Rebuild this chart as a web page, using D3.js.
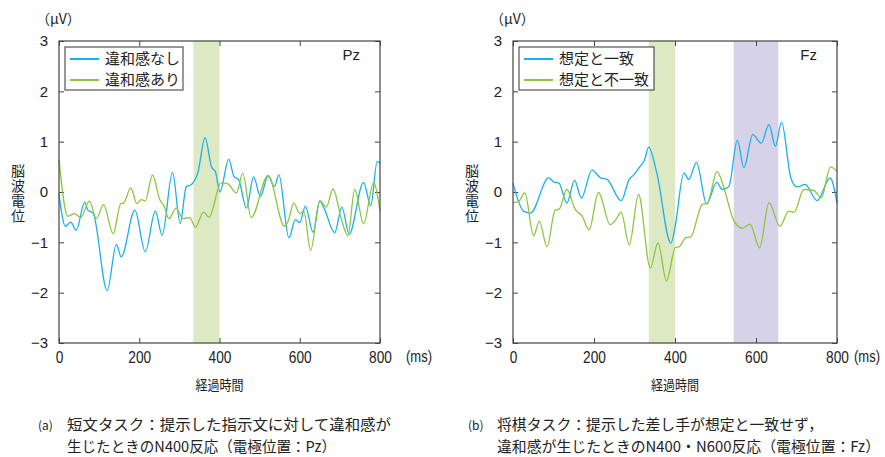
<!DOCTYPE html>
<html>
<head>
<meta charset="utf-8">
<script src="https://cdn.jsdelivr.net/npm/d3@7"></script>
<style>
  body { margin: 0; background: #fff; }
  text { fill: #222; }
  .jp { font-family: "Noto Sans CJK JP", sans-serif; }
  .num { font-family: "Liberation Sans", Arial, sans-serif; }
</style>
</head>
<body>
<svg id="chart" width="885" height="457"></svg>
<script>
// ---- data (ms, µV) ----
const pzMatchMs = [0, 16, 29, 43, 64, 72, 85, 120, 143, 155, 189, 215, 240, 257, 283, 302, 317, 330, 346, 364, 380, 390, 401, 423, 436, 448, 467, 485, 502, 521, 537, 548, 573, 589, 600, 614, 633, 650, 662, 687, 705, 723, 759, 777, 793, 800];
const pzMatchUv = [-0.05, -0.68, -0.6, -0.76, -0.2, -0.36, -0.42, -1.96, -1.04, -1.29, -0.36, -1.19, -0.38, -0.86, 0.39, -0.63, 0.1, 0.15, 0.38, 1.08, 0.5, 0.4, 0.0, 0.65, 0.31, 0.24, -0.32, 0.3, -0.09, 0.32, 0.11, 0.34, -0.91, -0.55, -0.61, -0.28, -0.8, -0.18, -0.35, -0.81, -0.3, -0.84, 0.19, -0.27, 0.61, 0.57];

const pzOddMs = [0, 22, 39, 54, 76, 93, 111, 135, 154, 161, 179, 194, 205, 215, 233, 251, 262, 274, 292, 309, 326, 340, 360, 374, 404, 421, 442, 458, 479, 521, 562, 571, 585, 600, 610, 627, 650, 666, 683, 704, 720, 737, 759, 784, 800];
const pzOddUv = [0.64, -0.48, -0.43, -0.51, -0.18, -0.53, -0.25, -0.83, -0.23, -0.22, 0.08, -0.23, -0.15, -0.18, 0.34, -0.15, -0.28, -0.53, -0.32, -0.53, -0.51, -0.7, -0.4, -0.5, 0.18, 0.16, -0.02, 0.37, -0.51, 0.33, -0.68, -0.58, -0.22, -0.43, -0.38, -1.16, -0.17, -0.3, 0.06, -0.55, -0.87, 0.05, -0.63, 0.18, -0.38];

const fzMatchMs = [0, 26, 43, 88, 103, 113, 133, 152, 169, 195, 216, 232, 267, 287, 298, 314, 325, 335, 355, 390, 400, 422, 434, 453, 478, 503, 517, 533, 554, 570, 592, 613, 632, 648, 663, 686, 702, 721, 751, 783, 800];
const fzMatchUv = [0.17, -0.38, -0.42, 0.28, 0.19, 0.18, -0.22, 0.23, -0.12, 0.44, 0.28, 0.25, -0.17, 0.25, 0.34, 0.51, 0.64, 0.89, 0.38, -1.02, -0.7, 0.38, 0.25, 0.59, -0.24, 0.19, 0.05, 0.11, 1.03, 0.48, 1.14, 0.97, 1.34, 0.91, 1.39, 0.28, 0.1, 0.15, -0.17, 0.28, -0.22];

const fzOddMs = [0, 14, 29, 51, 65, 84, 104, 114, 133, 154, 170, 188, 211, 240, 254, 267, 287, 310, 339, 358, 379, 401, 410, 426, 439, 467, 480, 504, 517, 546, 566, 585, 609, 632, 659, 681, 694, 718, 743, 761, 784, 800];
const fzOddUv = [-0.21, -0.19, -0.02, -0.87, -0.58, -1.09, -0.36, -0.34, 0.05, -0.35, -0.47, -0.75, -0.01, -0.65, -0.55, -0.4, -1.05, -0.05, -1.51, -1.01, -1.77, -1.1, -1.09, -0.91, -0.89, -0.25, -0.22, 0.41, 0.18, -0.58, -0.72, -0.64, -1.11, -0.21, -0.68, -0.38, -0.4, 0.05, 0.03, -0.12, 0.5, 0.41];

const pzBands = [[335, 400]];
const fzBands = [[335, 400], [545, 655]];
const bandColors = ["#dde9c3", "#d6d2e8"];

const xTicks = [0, 200, 400, 600, 800];
const yTicks = [-3, -2, -1, 0, 1, 2, 3];

const pzLegend = ["違和感なし", "違和感あり"];
const fzLegend = ["想定と一致", "想定と不一致"];

const captionA = ["短文タスク：提示した指示文に対して違和感が", "生じたときのN400反応（電極位置：Pz）"];
const captionB = ["将棋タスク：提示した差し手が想定と一致せず，", "違和感が生じたときのN400・N600反応（電極位置：Fz）"];

const zip = (ms, uv) => ms.map((t, i) => ({ t: t, v: uv[i] }));

class ErpChart {

  constructor(_config, _data) {
    this.config = {
      svg: _config.svg,
      left: _config.left,
      top: _config.top || 41,
      width: _config.width,
      height: _config.height || 302,
      site: _config.site,
      legend: _config.legend,
      legendWidth: _config.legendWidth,
      bands: _config.bands,
      msGap: _config.msGap || 26,
      colors: ["#1ab1e9", "#8cc63f"]
    }
    this.data = _data;
    this.initVis();
  }

  initVis() {
    let vis = this;
    const c = vis.config;

    vis.g = c.svg.append('g')
        .attr('transform', `translate(${c.left},${c.top})`);

    vis.xScale = d3.scaleLinear().domain([0, 800]).range([0, c.width]);
    vis.yScale = d3.scaleLinear().domain([-3, 3]).range([c.height, 0]);

    vis.line = d3.line()
        .x(d => vis.xScale(d.t))
        .y(d => vis.yScale(d.v))
        .curve(d3.curveMonotoneX);

    vis.renderVis();
  }

  renderVis() {
    let vis = this;
    const c = vis.config;

    // shaded time windows
    vis.g.selectAll('.band')
        .data(c.bands)
        .join('rect')
        .attr('class', 'band')
        .attr('x', d => vis.xScale(d[0]))
        .attr('width', d => vis.xScale(d[1]) - vis.xScale(d[0]))
        .attr('y', 0)
        .attr('height', c.height)
        .style('fill', (d, i) => bandColors[i]);

    // axes, ticks pointing inward on all four sides
    const tickStyle = g => {
      g.select('.domain').remove();
      g.selectAll('line').attr('stroke', '#444');
    };
    const bottom = vis.g.append('g')
        .attr('transform', `translate(0,${c.height})`)
        .call(d3.axisBottom(vis.xScale).tickValues(xTicks).tickSizeInner(-5).tickSizeOuter(0).tickPadding(9))
        .call(tickStyle);
    // tick labels in the reference are condensed
    bottom.selectAll('text')
        .attr('class', 'num')
        .attr('textLength', d => String(d).length * 7.6)
        .attr('lengthAdjust', 'spacingAndGlyphs')
        .style('font-size', '16px')
        .style('fill', '#222');
    vis.g.append('g')
        .call(d3.axisTop(vis.xScale).tickValues(xTicks).tickSizeInner(-5).tickSizeOuter(0).tickFormat(''))
        .call(tickStyle);
    const leftAx = vis.g.append('g')
        .call(d3.axisLeft(vis.yScale).tickValues(yTicks).tickSizeInner(-5).tickSizeOuter(0).tickPadding(11)
          .tickFormat(d => d < 0 ? '\u2212' + Math.abs(d) : d))
        .call(tickStyle);
    leftAx.selectAll('text')
        .attr('class', 'num')
        .style('font-size', '15px')
        .style('fill', '#222');
    vis.g.append('g')
        .attr('transform', `translate(${c.width},0)`)
        .call(d3.axisRight(vis.yScale).tickValues(yTicks).tickSizeInner(-5).tickSizeOuter(0).tickFormat(''))
        .call(tickStyle);

    // waveforms
    vis.g.selectAll('.wave')
        .data(vis.data)
        .join('path')
        .attr('class', 'wave')
        .attr('d', d => vis.line(d))
        .style('fill', 'none')
        .style('stroke', (d, i) => c.colors[i])
        .style('stroke-width', 1.3);

    // frame
    vis.g.append('rect')
        .attr('width', c.width)
        .attr('height', c.height)
        .style('fill', 'none')
        .style('stroke', '#444')
        .style('stroke-width', 1.2);

    // legend
    const lg = vis.g.append('g').attr('transform', 'translate(6,6)');
    lg.append('rect')
        .attr('width', c.legendWidth)
        .attr('height', 43)
        .style('fill', '#fff')
        .style('stroke', '#333')
        .style('stroke-width', 1);
    const item = lg.selectAll('.item')
        .data(c.legend)
        .join('g')
        .attr('class', 'item')
        .attr('transform', (d, i) => `translate(0,${12 + i * 21})`);
    item.append('line')
        .attr('x1', 5).attr('x2', 34)
        .style('stroke', (d, i) => c.colors[i])
        .style('stroke-width', 2);
    item.append('text')
        .attr('class', 'jp')
        .attr('x', 40)
        .attr('dy', '0.36em')
        .style('font-size', '15px')
        .text(d => d);

    // electrode site
    vis.g.append('text')
        .attr('class', 'num')
        .attr('x', c.width - 20)
        .attr('y', 19)
        .attr('text-anchor', 'end')
        .style('font-size', '15px')
        .text(c.site);

    // unit labels
    vis.g.append('text')
        .attr('class', 'jp')
        .attr('x', -23)
        .attr('y', -17)
        .style('font-size', '14px')
        .text('（μV）');
    vis.g.append('text')
        .attr('class', 'num')
        .attr('x', c.width + c.msGap)
        .attr('y', c.height + 19)
        .attr('textLength', 26)
        .attr('lengthAdjust', 'spacingAndGlyphs')
        .style('font-size', '16px')
        .text('(ms)');

    // axis titles
    vis.g.append('text')
        .attr('class', 'jp')
        .attr('x', c.width / 2)
        .attr('y', c.height + 47)
        .attr('text-anchor', 'middle')
        .attr('textLength', 48)
        .attr('lengthAdjust', 'spacingAndGlyphs')
        .style('font-size', '14px')
        .text('経過時間');
    // vertical y title, one text element written top to bottom
    vis.g.append('text')
        .attr('class', 'jp')
        .attr('x', -41)
        .attr('y', 123)
        .style('writing-mode', 'vertical-rl')
        .style('letter-spacing', '1px')
        .style('font-size', '14px')
        .text('脳波電位');
  }
}

const svg = d3.select('#chart');

new ErpChart({ svg: svg, left: 59, width: 321, site: 'Pz', legend: pzLegend, legendWidth: 118, bands: pzBands },
  [zip(pzMatchMs, pzMatchUv), zip(pzOddMs, pzOddUv)]);
new ErpChart({ svg: svg, left: 513, width: 324, site: 'Fz', legend: fzLegend, legendWidth: 135, bands: fzBands, msGap: 17 },
  [zip(fzMatchMs, fzMatchUv), zip(fzOddMs, fzOddUv)]);

// captions
const caption = (x, mark, lines, widths) => {
  svg.append('text')
      .attr('class', 'jp')
      .attr('x', x)
      .attr('y', 430)
      .style('font-size', '12px')
      .text(mark);
  svg.selectAll(null)
      .data(lines)
      .join('text')
      .attr('class', 'jp')
      .attr('x', x + 29)
      .attr('y', (d, i) => 430 + i * 22)
      .attr('textLength', (d, i) => widths[i])
      .attr('lengthAdjust', 'spacingAndGlyphs')
      .style('font-size', '15px')
      .text(d => d);
};
caption(38, '(a)', captionA, [324, 269]);
caption(468, '(b)', captionB, [326, 383]);
</script>
</body>
</html>
